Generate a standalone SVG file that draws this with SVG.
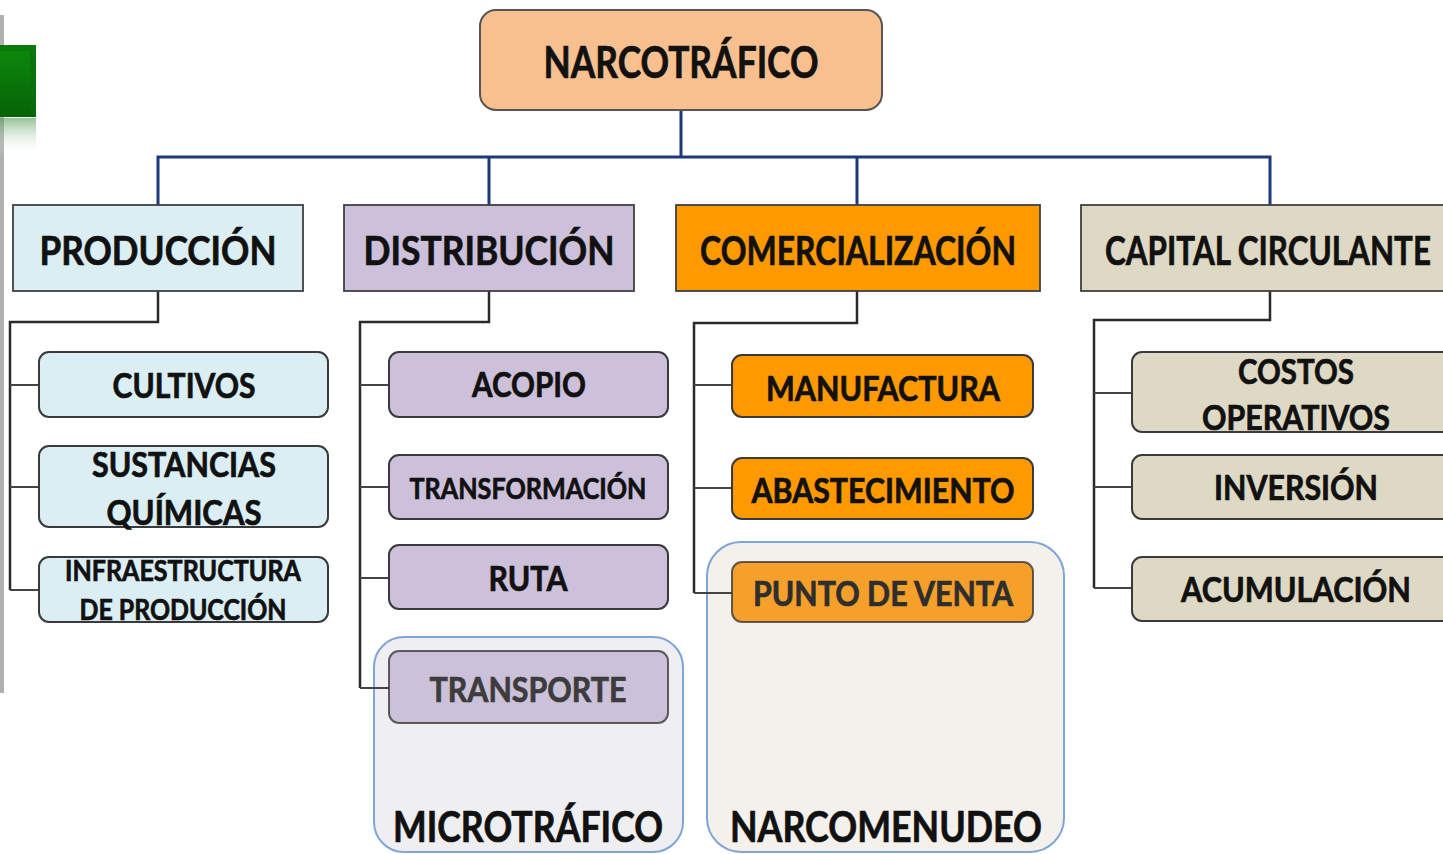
<svg xmlns="http://www.w3.org/2000/svg" width="1443" height="854" viewBox="0 0 1443 854">
<defs>
<style>
.t{font-family:Lato,"Open Sans","Liberation Sans",sans-serif;font-weight:bold;fill:#111;stroke:#111;stroke-width:0.7;text-anchor:middle}
.big{font-size:43px}
.l1{font-size:41px}
.c{font-size:35px}
.s{font-size:29px}
.lvl1{stroke:#404040;stroke-width:1.8}
.child{stroke:#3a3a3a;stroke-width:2}
.blue{fill:none;stroke:#1F3A7A;stroke-width:3}
.blk{fill:none;stroke:#2a2a2a;stroke-width:2.5}
.br{fill:none;stroke:#444;stroke-width:2}
.cont{stroke:#7FA5D6;stroke-width:2}
</style>
<linearGradient id="gfade" x1="0" y1="0" x2="0" y2="1">
<stop offset="0" stop-color="#4f9a4f" stop-opacity="0.6"/>
<stop offset="1" stop-color="#ffffff" stop-opacity="0"/>
</linearGradient>
<linearGradient id="gg" x1="0" y1="0" x2="0" y2="1">
<stop offset="0" stop-color="#0d8a0d"/>
<stop offset="1" stop-color="#056305"/>
</linearGradient>
</defs>
<rect width="1443" height="854" fill="#ffffff"/>
<g id="deco">
<rect x="0" y="15" width="4" height="678" fill="#b0b0b0"/>
<rect x="0" y="45" width="36" height="72" fill="url(#gg)"/>
<path d="M0 45H36V117L30 110V51H0Z" fill="#0a6e0a" opacity="0.6"/>
<rect x="0" y="118" width="36" height="38" fill="url(#gfade)"/>
</g>
<g id="containers">
<g id="microtrafico">
<rect class="cont" x="374" y="637" width="309" height="215" rx="30" fill="#EFEFF1"/>
<text class="t" x="528" y="842" font-size="42" textLength="270" lengthAdjust="spacingAndGlyphs">MICROTRÁFICO</text>
</g>
<g id="narcomenudeo">
<rect class="cont" x="707" y="542" width="357" height="310" rx="34" fill="#F4F0EC"/>
<text class="t" x="886" y="842" font-size="42" textLength="312" lengthAdjust="spacingAndGlyphs">NARCOMENUDEO</text>
</g>
</g>
<g id="connectors">
<path class="blue" d="M681 110V157M158 205V157H1270V205M489 157V205M857 157V205"/>
<path class="blk" d="M158 291V322H10V590"/>
<path class="br" d="M10 385H39M10 487H39M10 590H39"/>
<path class="blk" d="M489 291V322H360V688"/>
<path class="br" d="M360 385H389M360 487H389M360 578H389M360 688H389"/>
<path class="blk" d="M857 291V323H694V593"/>
<path class="br" d="M694 385H732M694 488H732M694 593H732"/>
<path class="blk" d="M1270 291V320H1094V588"/>
<path class="br" d="M1094 393H1132M1094 487H1132M1094 588H1132"/>
</g>
<g id="narcotrafico">
<rect x="480" y="10" width="402" height="100" rx="16" fill="#F9C08F" stroke="#555" stroke-width="2"/>
<text class="t big" x="681" y="78" textLength="275" lengthAdjust="spacingAndGlyphs">NARCOTRÁFICO</text>
</g>
<g id="produccion">
<rect class="lvl1" x="13" y="205" width="290" height="86" fill="#DAEEF3"/>
<text class="t l1" x="158" y="265" textLength="237" lengthAdjust="spacingAndGlyphs">PRODUCCIÓN</text>
</g>
<g id="distribucion">
<rect class="lvl1" x="344" y="205" width="290" height="86" fill="#CCC0DA"/>
<text class="t l1" x="489" y="265" textLength="251" lengthAdjust="spacingAndGlyphs">DISTRIBUCIÓN</text>
</g>
<g id="comercializacion">
<rect class="lvl1" x="676" y="205" width="364" height="86" fill="#FF9900"/>
<text class="t l1" x="858" y="265" textLength="316" lengthAdjust="spacingAndGlyphs">COMERCIALIZACIÓN</text>
</g>
<g id="capital">
<rect class="lvl1" x="1081" y="205" width="370" height="86" fill="#DDD9C4"/>
<text class="t l1" x="1268" y="265" textLength="326" lengthAdjust="spacingAndGlyphs">CAPITAL CIRCULANTE</text>
</g>
<g id="cultivos">
<rect class="child" x="39" y="352" width="289" height="65" rx="10" fill="#DAEEF3"/>
<text class="t c" x="184" y="398" textLength="143" lengthAdjust="spacingAndGlyphs">CULTIVOS</text>
</g>
<g id="sustancias">
<rect class="child" x="39" y="446" width="289" height="81" rx="10" fill="#DAEEF3"/>
<text class="t c" x="184" y="477" textLength="184" lengthAdjust="spacingAndGlyphs">SUSTANCIAS</text>
<text class="t c" x="184" y="525" textLength="155" lengthAdjust="spacingAndGlyphs">QUÍMICAS</text>
</g>
<g id="infraestructura">
<rect class="child" x="39" y="557" width="289" height="65" rx="10" fill="#DAEEF3"/>
<text class="t s" x="183" y="581" textLength="236" lengthAdjust="spacingAndGlyphs">INFRAESTRUCTURA</text>
<text class="t s" x="183" y="620" textLength="207" lengthAdjust="spacingAndGlyphs">DE PRODUCCIÓN</text>
</g>
<g id="acopio">
<rect class="child" x="389" y="352" width="279" height="65" rx="10" fill="#CCC0DA"/>
<text class="t c" x="529" y="397" textLength="114" lengthAdjust="spacingAndGlyphs">ACOPIO</text>
</g>
<g id="transformacion">
<rect class="child" x="389" y="455" width="279" height="64" rx="10" fill="#CCC0DA"/>
<text class="t s" x="528" y="499" textLength="237" lengthAdjust="spacingAndGlyphs">TRANSFORMACIÓN</text>
</g>
<g id="ruta">
<rect class="child" x="389" y="545" width="279" height="64" rx="10" fill="#CCC0DA"/>
<text class="t c" x="528" y="591" textLength="79" lengthAdjust="spacingAndGlyphs">RUTA</text>
</g>
<g id="transporte">
<rect class="child" x="389" y="651" width="279" height="72" rx="10" fill="#CBC1D9" stroke-opacity="0.8"/>
<text class="t c" x="528" y="702" style="fill:#3c3c3c;stroke:#3c3c3c" textLength="197" lengthAdjust="spacingAndGlyphs">TRANSPORTE</text>
</g>
<g id="manufactura">
<rect class="child" x="732" y="355" width="301" height="62" rx="10" fill="#FF9900"/>
<text class="t c" x="883" y="401" textLength="234" lengthAdjust="spacingAndGlyphs">MANUFACTURA</text>
</g>
<g id="abastecimiento">
<rect class="child" x="732" y="458" width="301" height="61" rx="10" fill="#FF9900"/>
<text class="t c" x="883" y="503" textLength="263" lengthAdjust="spacingAndGlyphs">ABASTECIMIENTO</text>
</g>
<g id="puntodeventa">
<rect class="child" x="732" y="562" width="301" height="60" rx="10" fill="#F5A02A" stroke-opacity="0.8"/>
<text class="t c" x="883" y="606" style="fill:#2e2e2e;stroke:#2e2e2e" textLength="260" lengthAdjust="spacingAndGlyphs">PUNTO DE VENTA</text>
</g>
<g id="costos">
<rect class="child" x="1132" y="352" width="320" height="80" rx="10" fill="#DDD9C4"/>
<text class="t c" x="1296" y="384" textLength="116" lengthAdjust="spacingAndGlyphs">COSTOS</text>
<text class="t c" x="1296" y="430" textLength="188" lengthAdjust="spacingAndGlyphs">OPERATIVOS</text>
</g>
<g id="inversion">
<rect class="child" x="1132" y="455" width="320" height="64" rx="10" fill="#DDD9C4"/>
<text class="t c" x="1296" y="500" textLength="164" lengthAdjust="spacingAndGlyphs">INVERSIÓN</text>
</g>
<g id="acumulacion">
<rect class="child" x="1132" y="557" width="320" height="64" rx="10" fill="#DDD9C4"/>
<text class="t c" x="1296" y="602" textLength="230" lengthAdjust="spacingAndGlyphs">ACUMULACIÓN</text>
</g>
</svg>
